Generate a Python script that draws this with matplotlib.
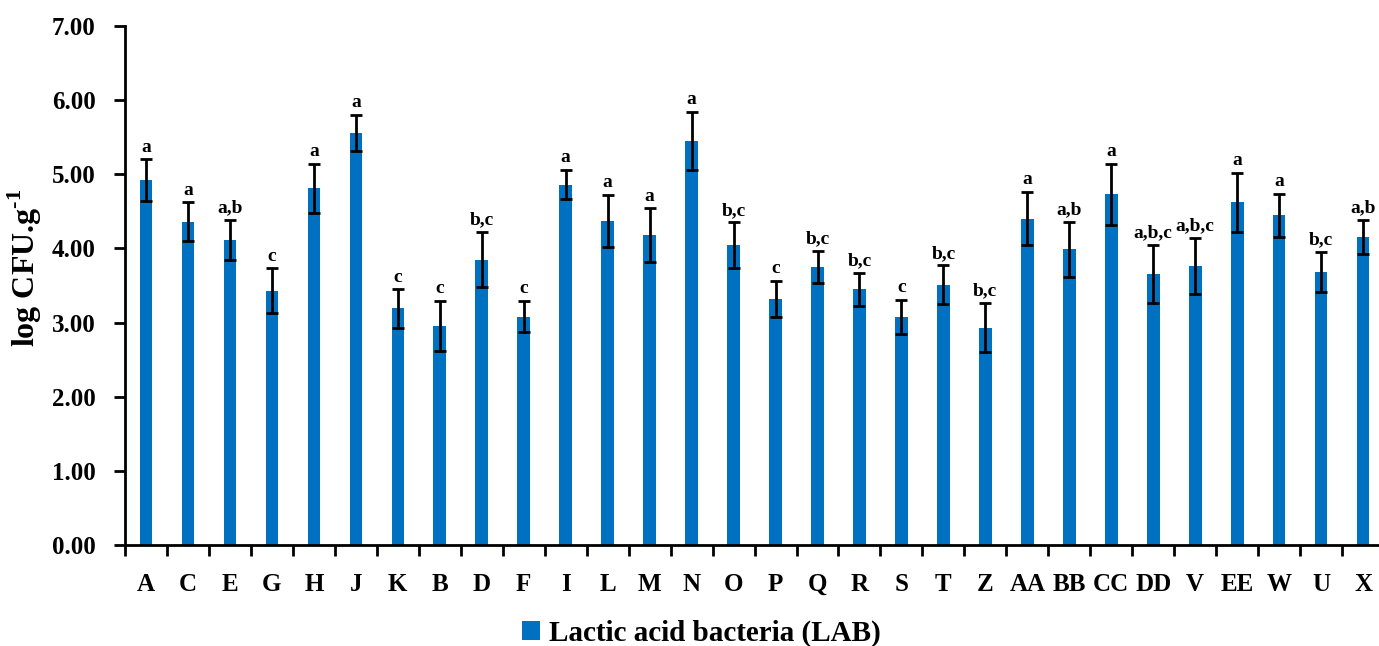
import matplotlib
matplotlib.use("Agg")
import matplotlib.pyplot as plt
import numpy as np

categories = ["A", "C", "E", "G", "H", "J", "K", "B", "D", "F",
              "I", "L", "M", "N", "O", "P", "Q", "R", "S", "T",
              "Z", "AA", "BB", "CC", "DD", "V", "EE", "W", "U", "X"]
values = [4.92, 4.36, 4.11, 3.43, 4.81, 5.56, 3.19, 2.95, 3.85, 3.08,
          4.86, 4.37, 4.18, 5.45, 4.04, 3.32, 3.75, 3.45, 3.08, 3.51,
          2.93, 4.40, 3.99, 4.73, 3.66, 3.76, 4.62, 4.45, 3.68, 4.15]
errors = [0.28, 0.26, 0.27, 0.30, 0.33, 0.24, 0.26, 0.34, 0.37, 0.21,
          0.20, 0.35, 0.36, 0.39, 0.31, 0.24, 0.21, 0.22, 0.23, 0.26,
          0.33, 0.36, 0.37, 0.41, 0.39, 0.38, 0.40, 0.29, 0.27, 0.23]
letters = ["a", "a", "a,b", "c", "a", "a", "c", "c", "b,c", "c",
           "a", "a", "a", "a", "b,c", "c", "b,c", "b,c", "c", "b,c",
           "b,c", "a", "a,b", "a", "a,b,c", "a,b,c", "a", "a", "b,c", "a,b"]
yticks = [0, 1, 2, 3, 4, 5, 6, 7]

plt.rcParams['font.family'] = ['Liberation Serif', 'DejaVu Serif']
plt.rcParams['font.weight'] = 'bold'
plt.rcParams['mathtext.fontset'] = 'custom'
plt.rcParams['mathtext.rm'] = 'Liberation Serif:bold'
plt.rcParams['mathtext.bf'] = 'Liberation Serif:bold'

W, H = 1379, 646
fig = plt.figure(figsize=(W / 100, H / 100), dpi=100)
left = 125 / W
bottom = (H - 545) / H
height = (545 - 26) / H
width = 30 * 41.97 / W
ax = fig.add_axes([left, bottom, width, height])

color = "#0070C0"
x = np.arange(len(categories))
bars = ax.bar(x, values, width=0.3, color=color, label="Lactic acid bacteria (LAB)", zorder=2)
ax.errorbar(x, values, yerr=errors, fmt="none", ecolor="black", elinewidth=2,
            capsize=4.5, capthick=2, zorder=3)
for xi, v, e, t in zip(x, values, errors, letters):
    ax.text(xi, v + e + 0.05, t, ha="center", va="bottom", fontsize=14, fontweight="bold")

ax.set_xlim(-0.5, len(categories) - 0.5)
ax.set_ylim(0, 7)
ax.set_yticks(yticks)
ax.set_yticklabels([f"{t:.2f}" for t in yticks], fontsize=18, fontweight="bold")
ax.set_xticks(np.arange(-0.5, len(categories), 1))
ax.set_xticklabels([])
ax.set_xticks(x, minor=True)
ax.set_xticklabels(categories, minor=True, fontsize=18, fontweight="bold")
ax.tick_params(axis="x", which="major", length=8, width=2, direction="out")
ax.tick_params(axis="x", which="minor", length=0, pad=20)
ax.tick_params(axis="y", length=8, width=2, direction="out", pad=13)
for s in ["top", "right"]:
    ax.spines[s].set_visible(False)
for s in ["left", "bottom"]:
    ax.spines[s].set_linewidth(2)

fig.text(25 / W, (H - 268) / H, "log CFU.g$^{\\text{-1}}$", rotation=90,
         ha="center", va="center", fontsize=23, fontweight="bold")

fig.legend(handles=[bars], labels=["Lactic acid bacteria (LAB)"], loc="center",
           bbox_to_anchor=(701 / W, (H - 633) / H), frameon=False,
           prop={"weight": "bold", "size": 21}, handlelength=0.62, handleheight=0.62,
           handletextpad=0.3, borderpad=0)

fig.savefig("out.png", dpi=100)
